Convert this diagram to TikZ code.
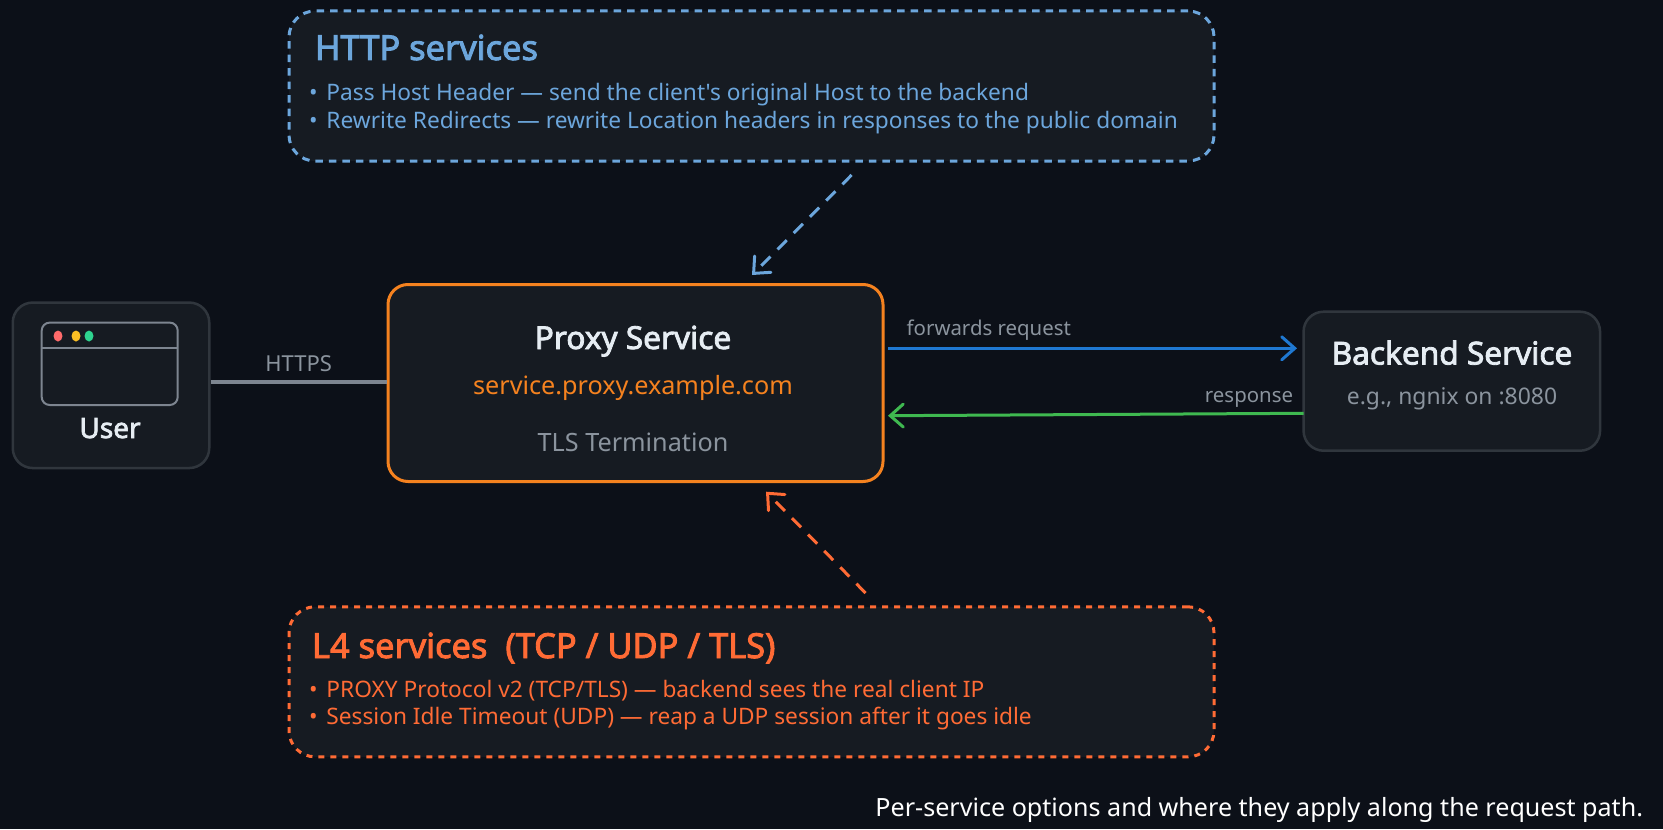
\documentclass[tikz,border=0pt]{standalone}
\usepackage{fontspec}
\usepackage{xcolor}
\usetikzlibrary{arrows.meta}
\newfontfamily\uifont[BoldFont={Noto Sans},BoldFeatures={FakeBold=2.6}]{Noto Sans}
\definecolor{bgdark}{HTML}{0C1018}
\definecolor{panelfill}{HTML}{161B22}
\definecolor{panelline}{HTML}{30363D}
\definecolor{mutedgray}{HTML}{8B949E}
\definecolor{linkgray}{HTML}{7D8590}
\definecolor{lighttext}{HTML}{E6EDF3}
\definecolor{proxyorange}{HTML}{F5821F}
\definecolor{httpblue}{HTML}{6CA6DC}
\definecolor{lfourorange}{HTML}{FF6B35}
\definecolor{fwdblue}{HTML}{1F78D1}
\definecolor{respgreen}{HTML}{3FB950}
\definecolor{dotred}{HTML}{FF6B6B}
\definecolor{dotyellow}{HTML}{FBBF24}
\definecolor{dotgreen}{HTML}{2ED48F}
\tikzset{
	every node/.append style={font=\uifont, inner sep=0pt, outer sep=0pt},
	panel/.style = {
			rectangle,
			fill            = panelfill,
			draw            = panelline,
			line width      = 1.25pt,
			outer sep       = 0.625pt,
			rounded corners = 10pt,
		},
	optbox/.style = {
			panel,
			line width      = 1.5pt,
			outer sep       = 0.75pt,
			rounded corners = 13pt,
			minimum width   = 462.5pt,
			minimum height  = 75pt,
		},
	title/.style = {font=\uifont\fontsize{15.8}{18}\selectfont\bfseries, text=lighttext, anchor=base},
	boxtitle/.style = {font=\uifont\fontsize{17.2}{20}\selectfont\bfseries, anchor=base west},
	sub/.style = {font=\uifont\fontsize{12.6}{14}\selectfont, anchor=base},
	bullet/.style = {font=\uifont\fontsize{11.35}{13}\selectfont, anchor=base west},
	small/.style = {font=\uifont\fontsize{10.2}{12}\selectfont, text=mutedgray, anchor=base},
	head/.style = {-{Straight Barb[length=6.5pt,width=11.5pt,line cap=round]}},
}
\begin{document}
\begin{tikzpicture}[x=0.5pt,y=-0.5pt]
	\useasboundingbox[fill=bgdark] (0,0) rectangle (1663,829);

	% User with its browser window
	\node[panel, minimum width=98.25pt, minimum height=82.75pt] (user) at (111,385.3) {};
	\node[draw=linkgray, line width=1pt, rounded corners=4pt, minimum width=68pt, minimum height=41.2pt] (window) at (109.7,363.8) {};
	\draw[linkgray, line width=1pt] (window.west |- 0,348) -- (window.east |- 0,348);
	\fill[dotred] (58,336) ellipse (2.25pt and 2.75pt);
	\fill[dotyellow] (76,336) ellipse (2.25pt and 2.75pt);
	\fill[dotgreen] (89,336) ellipse (2.25pt and 2.75pt);
	\node[title, font=\uifont\fontsize{14}{16}\selectfont\bfseries] (userlabel) at (110,438) {User};

	% Proxy in the middle
	\node[panel, draw=proxyorange, line width=1.5pt, outer sep=0.75pt, minimum width=247.5pt, minimum height=98.5pt] (proxy) at (635.5,383) {};
	\node[title] (proxyname) at (633,349) {Proxy Service};
	\node[sub, text=proxyorange] (proxydomain) at (633,394.5) {service.proxy.example.com};
	\node[sub, text=mutedgray] (proxytls) at (633,451) {TLS Termination};

	% Backend on the right
	\node[panel, minimum width=148.25pt, minimum height=69.5pt] (backend) at (1451.8,381.2) {};
	\node[title] (backendname) at (1452,364.5) {Backend Service};
	\node[sub, font=\uifont\fontsize{11.45}{13}\selectfont, text=mutedgray] (backendnote) at (1452,404) {e.g., ngnix on :8080};

	% Request path
	\coordinate (fwdstart) at (888,348.3);
	\coordinate (fwdend) at (1297,348.3);
	\coordinate (respstart) at (1303.7,413.3);
	\coordinate (respend) at (888,415.7);
	\draw[linkgray, line width=1.6pt] (proxy.west |- 0,382) -- (user.east |- 0,382);
	\draw[head, fwdblue, line width=1.5pt] (fwdstart) -- (fwdend);
	\draw[head, respgreen, line width=1.5pt] (respstart) -- (respend);
	\node[small, font=\uifont\fontsize{11}{12}\selectfont] (httpslabel) at (298.6,371) {HTTPS};
	\node[small, anchor=base west] (fwdlabel) at (906.7,335) {forwards request};
	\node[small, anchor=base east] (resplabel) at (1293,402) {response};

	% HTTP options
	\node[optbox, draw=httpblue, dash pattern=on 3.75pt off 3pt] (httpbox) at (751.5,86) {};
	\node[boxtitle, text=httpblue] (httptitle) at (315,60) {HTTP services};
	\node[bullet, text=httpblue] (httpfirst) at (309,101) {•\hspace{1.5pt} Pass Host Header — send the client's original Host to the backend};
	\node[bullet, text=httpblue] (httpsecond) at (309,128) {•\hspace{1.5pt} Rewrite Redirects — rewrite Location headers in responses to the public domain};
	\coordinate (httpfrom) at (851.6,175);
	\coordinate (httpto) at (752,275);
	\draw[head, httpblue, line width=1.5pt, dash pattern=on 6.5pt off 5pt] (httpfrom) -- (httpto);

	% L4 options
	\node[optbox, draw=lfourorange, dash pattern=on 3pt off 3pt] (lfourbox) at (751.5,681.8) {};
	\node[boxtitle, text=lfourorange] (lfourtitle) at (312,658) {L4 services\ \ (TCP / UDP / TLS)};
	\node[bullet, text=lfourorange] (lfourfirst) at (309,697) {•\hspace{1.5pt} PROXY Protocol v2 (TCP/TLS) — backend sees the real client IP};
	\node[bullet, text=lfourorange] (lfoursecond) at (309,724) {•\hspace{1.5pt} Session Idle Timeout (UDP) — reap a UDP session after it goes idle};
	\coordinate (lfourfrom) at (865.5,593);
	\coordinate (lfourto) at (766,491.7);
	\draw[head, lfourorange, line width=1.5pt, dash pattern=on 6.5pt off 5pt] (lfourfrom) -- (lfourto);

	% Caption
	\node[font=\uifont\fontsize{12.55}{15}\selectfont, text=white, anchor=base east] (caption) at (1643,816) {Per-service options and where they apply along the request path.};
\end{tikzpicture}
\end{document}
